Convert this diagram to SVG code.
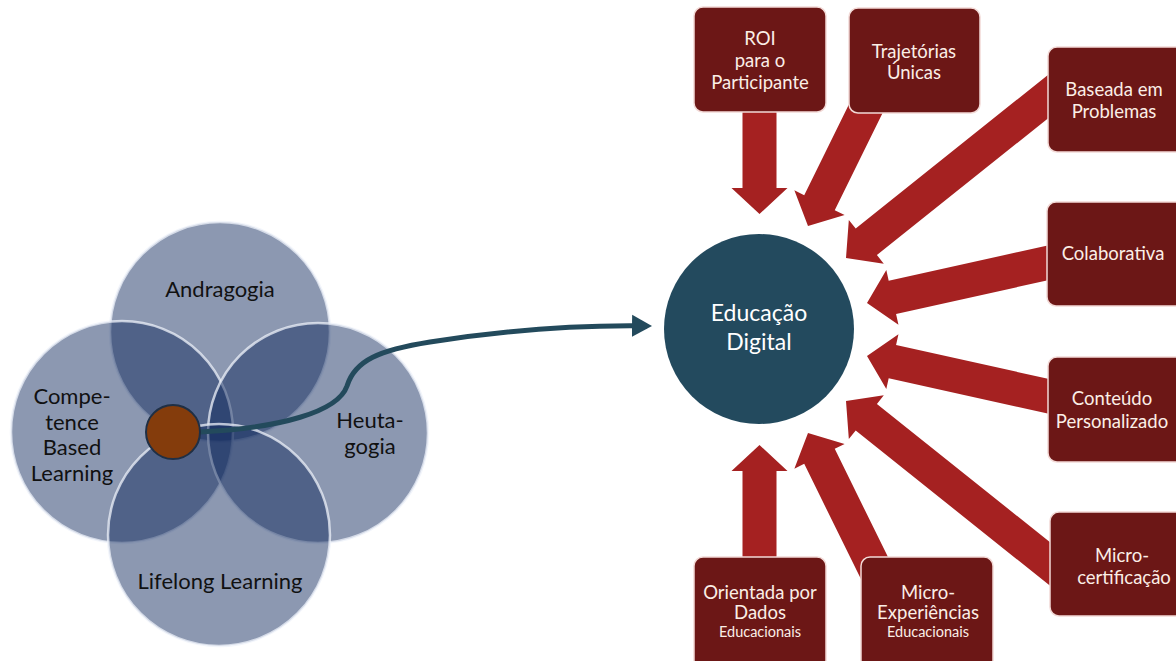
<svg xmlns="http://www.w3.org/2000/svg" width="1176" height="661" viewBox="0 0 1176 661">
<style>
.petal{fill:#0f275d;fill-opacity:0.48;stroke:#eef2fa;stroke-opacity:0.75;stroke-width:2.5}
.lbl{font-family:Lato,"Open Sans","DejaVu Sans",sans-serif;font-size:22px;fill:#111111;text-anchor:middle}
.box{fill:#6c1716;stroke:#f2d9d6;stroke-width:1.5}
.arr{fill:#a52121}
.bt{font-family:Lato,"Open Sans","DejaVu Sans",sans-serif;font-size:18.5px;fill:#fbeee6;text-anchor:middle}
.bs{font-size:14.5px}
.ct{font-family:Lato,"Open Sans","DejaVu Sans",sans-serif;font-size:23px;fill:#ffffff;text-anchor:middle}
</style>
<defs>
<marker id="ah" markerWidth="6" markerHeight="6" refX="3" refY="3" orient="auto" markerUnits="strokeWidth">
<path d="M0,0.8 L4,3 L0,5.2 z" fill="#234a5c"/>
</marker>
</defs>
<rect width="1176" height="661" fill="#ffffff"/>

<g id="flower">
<g id="andragogia"><circle class="petal" cx="220" cy="332" r="110"/></g>
<g id="competence"><circle class="petal" cx="122" cy="432" r="111"/></g>
<g id="heutagogia"><circle class="petal" cx="318" cy="433" r="110"/></g>
<g id="lifelong"><circle class="petal" cx="219" cy="535" r="111"/></g>
<text class="lbl" x="220" y="297">Andragogia</text>
<text class="lbl" x="72" y="404">Compe-</text>
<text class="lbl" x="72" y="430">tence</text>
<text class="lbl" x="72" y="455">Based</text>
<text class="lbl" x="72" y="481">Learning</text>
<text class="lbl" x="370" y="428">Heuta-</text>
<text class="lbl" x="370" y="454">gogia</text>
<text class="lbl" x="220" y="589">Lifelong Learning</text>
</g>

<g id="connectors">
<path d="M200,432 C280,428 338,412 347,386 C355,360 380,350 430,342 C500,331 580,325 647,326" fill="none" stroke="#234a5c" stroke-width="5" marker-end="url(#ah)"/>
<polygon class="arr" points="742.5,110 742.5,188 731.5,188 759.5,214 787.5,188 776.5,188 776.5,110"/>
<polygon class="arr" points="742.5,560 742.5,471 731.5,471 759.5,445 787.5,471 776.5,471 776.5,560"/>
<polygon class="arr" points="863.4,74.9 804.22,195.16 794.35,190.31 808,226 844.61,215.03 834.74,210.18 893.9,89.9"/>
<polygon class="arr" points="863.4,584.1 804.22,463.84 794.35,468.69 808,433 844.61,443.97 834.74,448.82 893.9,569.1"/>
<polygon class="arr" points="1069.8,57.4 855.7,228.49 848.83,219.89 846,258 883.79,263.65 876.92,255.05 1091,84"/>
<polygon class="arr" points="1069.8,601.6 855.7,430.51 848.83,439.11 846,401 883.79,395.35 876.92,403.95 1091,575"/>
<polygon class="arr" points="1078.1,238.7 888.69,280.76 886.31,270.03 867,303 898.45,324.69 896.07,313.96 1085.5,271.9"/>
<polygon class="arr" points="1078.1,420.3 888.69,378.24 886.31,388.97 867,356 898.45,334.31 896.07,345.04 1085.5,387.1"/>
</g>

<g id="center-dot"><circle cx="173" cy="432" r="27" fill="#843c0c" stroke="#1f2f45" stroke-width="2"/></g>

<g id="educacao-digital">
<circle cx="759" cy="329" r="95" fill="#234a5e"/>
<text class="ct" x="759" y="321">Educação</text>
<text class="ct" x="759" y="350">Digital</text>
</g>

<g id="roi"><rect class="box" x="694" y="7" width="132" height="105" rx="9"/>
<text class="bt" x="760" y="45">ROI</text><text class="bt" x="760" y="67">para o</text><text class="bt" x="760" y="89">Participante</text></g>
<g id="trajetorias"><rect class="box" x="849" y="8" width="131" height="105" rx="9"/>
<text class="bt" x="914" y="58">Trajetórias</text><text class="bt" x="914" y="79">Únicas</text></g>
<g id="baseada"><rect class="box" x="1048" y="47" width="140" height="105" rx="9"/>
<text class="bt" x="1114" y="96">Baseada em</text><text class="bt" x="1114" y="118">Problemas</text></g>
<g id="colaborativa"><rect class="box" x="1047" y="202" width="140" height="104" rx="9"/>
<text class="bt" x="1113" y="260">Colaborativa</text></g>
<g id="conteudo"><rect class="box" x="1048" y="357" width="140" height="105" rx="9"/>
<text class="bt" x="1112" y="405">Conteúdo</text><text class="bt" x="1112" y="428">Personalizado</text></g>
<g id="microcert"><rect class="box" x="1050" y="512" width="140" height="104" rx="9"/>
<text class="bt" x="1122" y="562">Micro-</text><text class="bt" x="1124" y="584">certificação</text></g>
<g id="orientada"><rect class="box" x="694" y="557" width="132" height="112" rx="9"/>
<text class="bt" x="760" y="599">Orientada por</text><text class="bt" x="760" y="619">Dados</text><text class="bt bs" x="760" y="637">Educacionais</text></g>
<g id="microexp"><rect class="box" x="861" y="557" width="132" height="112" rx="9"/>
<text class="bt" x="928" y="599">Micro-</text><text class="bt" x="928" y="619">Experiências</text><text class="bt bs" x="928" y="637">Educacionais</text></g>
</svg>
